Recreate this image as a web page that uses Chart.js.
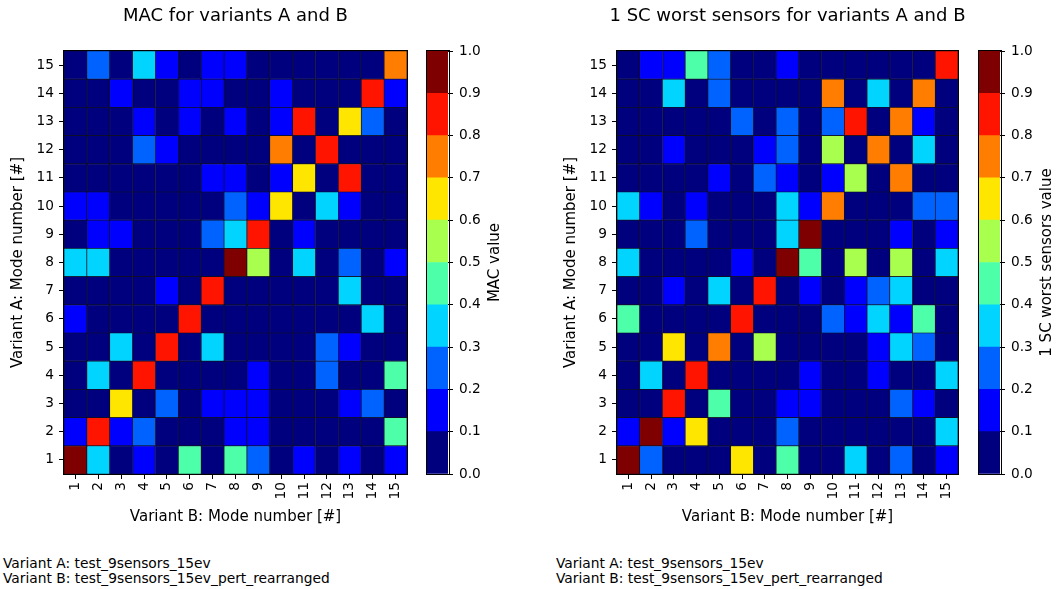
<!DOCTYPE html>
<html>
<head>
<meta charset="utf-8">
<script src="https://cdn.jsdelivr.net/npm/chart.js@4.4.0/dist/chart.umd.min.js"></script>
<style>
body { margin: 0; background: #fff; width: 1057px; height: 589px; position: relative; overflow: hidden; font-family: "DejaVu Sans", sans-serif; }
canvas { position: absolute; top: 0; }
.note { position: absolute; top: 556px; font-size: 13.8px; line-height: 15px; color: #000; white-space: pre; }
</style>
</head>
<body>
<canvas id="mac" width="471" height="530" style="left:0"></canvas>
<canvas id="macBar" width="110" height="530" style="left:420px"></canvas>
<canvas id="sc" width="469" height="530" style="left:553px"></canvas>
<canvas id="scBar" width="110" height="530" style="left:972px"></canvas>
<div class="note" style="left:3px">Variant A: test_9sensors_15ev
Variant B: test_9sensors_15ev_pert_rearranged</div>
<div class="note" style="left:556px">Variant A: test_9sensors_15ev
Variant B: test_9sensors_15ev_pert_rearranged</div>
<script>
var modes = ['1','2','3','4','5','6','7','8','9','10','11','12','13','14','15'];

// rows: Variant A mode 1..15, columns: Variant B mode 1..15
var macValues = [
    [.96,.35,.04,.15,.04,.45,.04,.45,.25,.04,.15,.04,.15,.04,.15],
    [.15,.85,.15,.25,.04,.04,.04,.15,.15,.04,.04,.04,.04,.04,.45],
    [.04,.04,.65,.04,.25,.04,.15,.15,.15,.04,.04,.04,.15,.25,.04],
    [.04,.35,.04,.85,.04,.04,.04,.04,.15,.04,.04,.25,.04,.04,.45],
    [.04,.04,.35,.04,.85,.04,.35,.04,.04,.04,.04,.25,.15,.04,.04],
    [.15,.04,.04,.04,.04,.85,.04,.04,.04,.04,.04,.04,.04,.35,.04],
    [.04,.04,.04,.04,.15,.04,.85,.04,.04,.04,.04,.04,.35,.04,.04],
    [.35,.35,.04,.04,.04,.04,.04,.96,.55,.04,.35,.04,.25,.04,.15],
    [.04,.15,.15,.04,.04,.04,.25,.35,.85,.04,.15,.04,.04,.04,.04],
    [.15,.15,.04,.04,.04,.04,.04,.25,.15,.65,.04,.35,.15,.04,.04],
    [.04,.04,.04,.04,.04,.04,.15,.15,.04,.15,.65,.04,.85,.04,.04],
    [.04,.04,.04,.25,.15,.04,.04,.04,.04,.75,.04,.85,.04,.04,.04],
    [.04,.04,.04,.15,.04,.15,.04,.15,.04,.15,.85,.04,.65,.25,.04],
    [.04,.04,.15,.04,.04,.15,.15,.04,.04,.15,.04,.04,.04,.85,.15],
    [.04,.25,.04,.35,.15,.04,.15,.15,.04,.04,.04,.04,.04,.04,.75]
];

var scValues = [
    [.96,.25,.04,.04,.04,.65,.04,.45,.04,.04,.35,.04,.25,.04,.15],
    [.15,.96,.15,.65,.04,.04,.04,.25,.04,.04,.04,.04,.04,.04,.35],
    [.04,.04,.85,.04,.45,.04,.04,.15,.15,.04,.04,.04,.25,.15,.04],
    [.04,.35,.04,.85,.04,.04,.04,.04,.15,.04,.04,.15,.04,.04,.35],
    [.04,.04,.65,.04,.75,.04,.55,.04,.04,.04,.04,.15,.35,.25,.04],
    [.45,.04,.04,.04,.04,.85,.04,.04,.04,.25,.15,.35,.15,.45,.04],
    [.04,.04,.15,.04,.35,.04,.85,.04,.15,.04,.15,.25,.35,.04,.04],
    [.35,.04,.04,.04,.04,.15,.04,.96,.45,.04,.55,.04,.55,.04,.35],
    [.04,.04,.04,.25,.04,.04,.04,.35,.96,.04,.04,.04,.15,.04,.15],
    [.35,.15,.04,.15,.04,.04,.04,.35,.15,.75,.04,.04,.04,.25,.25],
    [.04,.04,.04,.04,.15,.04,.25,.15,.04,.15,.55,.04,.75,.04,.04],
    [.04,.04,.15,.04,.04,.04,.15,.25,.04,.55,.04,.75,.04,.35,.04],
    [.04,.04,.04,.04,.04,.25,.04,.25,.04,.25,.85,.04,.75,.15,.04],
    [.04,.04,.35,.04,.25,.04,.04,.04,.04,.75,.04,.35,.04,.75,.04],
    [.04,.15,.15,.45,.25,.04,.04,.15,.04,.04,.04,.04,.04,.04,.85]
];

var levels = [0, 0.1, 0.2, 0.3, 0.4, 0.5, 0.6, 0.7, 0.8, 0.9, 1.0];

// jet colormap cut in 10 steps
var jetColors = ['#00007f', '#0000ff', '#0063ff', '#00d4ff', '#4effa9',
                 '#a9ff4e', '#ffe600', '#ff7d00', '#ff1400', '#7f0000'];

Chart.defaults.font.family = '"DejaVu Sans", sans-serif';
Chart.defaults.color = '#000';

function jet(v) {
    return jetColors[Math.min(9, Math.floor(v * 10))];
}

var frame = {
    id: 'frame',
    afterDraw: function(chart) {
        var a = chart.chartArea, ctx = chart.ctx;
        ctx.save();
        ctx.strokeStyle = '#000';
        ctx.lineWidth = 1;
        ctx.strokeRect(Math.round(a.left) - 0.5, Math.round(a.top) - 0.5,
                       Math.round(a.right - a.left) + 1, Math.round(a.bottom - a.top) + 1);
        ctx.restore();
    }
};

function heatmap(id, title, rows) {
    var sets = rows.map(function(vals, i) {
        var mode = Number(modes[i]);
        return {
            data: vals.map(function() { return [mode - 0.5, mode + 0.5]; }),
            backgroundColor: vals.map(jet),
            borderColor: '#101020',
            borderWidth: 0.7,
            borderSkipped: false,
            grouped: false,
            barPercentage: 1,
            categoryPercentage: 1
        };
    });
    return new Chart(document.getElementById(id), {
        type: 'bar',
        data: { labels: modes, datasets: sets },
        options: {
            responsive: false,
            animation: false,
            layout: { padding: 0 },
            plugins: {
                legend: { display: false },
                tooltip: { enabled: false },
                title: {
                    display: true, text: title,
                    font: { size: 18, weight: 'normal' },
                    padding: { top: 6, bottom: 23.4 }
                }
            },
            scales: {
                x: {
                    ticks: { minRotation: 90, maxRotation: 90, padding: 3, font: { size: 13.7 } },
                    grid: { offset: false, drawOnChartArea: false, tickLength: 5, color: '#000' },
                    border: { display: false },
                    title: { display: true, text: 'Variant B: Mode number [#]', font: { size: 15 }, padding: { top: 0, bottom: 4 } },
                    afterFit: function(s) { s.height = 56; }
                },
                y: {
                    type: 'linear', min: 0.5, max: 15.5,
                    afterBuildTicks: function(s) {
                        s.ticks = modes.map(function(m) { return { value: Number(m) }; });
                    },
                    ticks: { padding: 5, font: { size: 13.7 } },
                    grid: { drawOnChartArea: false, tickLength: 5, color: '#000' },
                    border: { display: false },
                    title: { display: true, text: 'Variant A: Mode number [#]', font: { size: 15 }, padding: { top: 9.5, bottom: 0 } },
                    afterFit: function(s) { s.width = 64; }
                },
                // empty space on the right, where the colour bar sits
                gap: {
                    type: 'linear', position: 'right',
                    ticks: { display: false },
                    grid: { display: false },
                    border: { display: false },
                    afterFit: function(s) { s.width = 64; }
                }
            }
        },
        plugins: [frame]
    });
}

function colorbar(id, label) {
    var sets = levels.slice(0, -1).map(function(lo, i) {
        return {
            data: [[lo, levels[i + 1]]],
            backgroundColor: jetColors[i],
            borderWidth: 0,
            grouped: false,
            barPercentage: 1,
            categoryPercentage: 1
        };
    });
    var barLabel = {
        id: 'barLabel',
        afterDraw: function(chart) {
            var a = chart.chartArea, ctx = chart.ctx;
            ctx.save();
            ctx.translate(75, (a.top + a.bottom) / 2);
            ctx.rotate(-Math.PI / 2);
            ctx.font = '15px "DejaVu Sans"';
            ctx.fillStyle = '#000';
            ctx.textAlign = 'center';
            ctx.textBaseline = 'middle';
            ctx.fillText(label, 0, 0);
            ctx.restore();
        }
    };
    return new Chart(document.getElementById(id), {
        type: 'bar',
        data: { labels: [''], datasets: sets },
        options: {
            responsive: false,
            animation: false,
            layout: { padding: { left: 6.5, right: 0, top: 51, bottom: 56 } },
            plugins: { legend: { display: false }, tooltip: { enabled: false } },
            scales: {
                x: { display: false },
                y: {
                    position: 'right', min: 0, max: 1,
                    ticks: { stepSize: 0.1, padding: 6, font: { size: 13.7 },
                             callback: function(v) { return v.toFixed(1); } },
                    grid: { drawOnChartArea: false, tickLength: 5, color: '#000' },
                    border: { display: false },
                    afterFit: function(s) { s.width = 82; }
                }
            }
        },
        plugins: [frame, barLabel]
    });
}

heatmap('mac', 'MAC for variants A and B', macValues);
colorbar('macBar', 'MAC value');
heatmap('sc', '1 SC worst sensors for variants A and B', scValues);
colorbar('scBar', '1 SC worst sensors value');
</script>
</body>
</html>
